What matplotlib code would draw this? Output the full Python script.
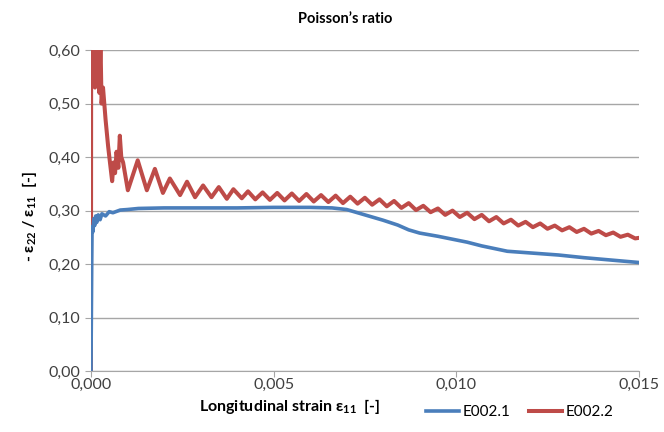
import numpy as np
import matplotlib.pyplot as plt
from matplotlib.ticker import FuncFormatter, MultipleLocator

plt.rcParams['font.family'] = ['Lato', 'DejaVu Sans']
plt.rcParams['mathtext.default'] = 'regular'

# Данные (деформация в 1e-3)
blue_x = [0.0, 0.02, 0.03, 0.05, 0.08, 0.10, 0.13, 0.16, 0.20, 0.25, 0.30, 0.40, 0.50, 0.60,
          0.80, 1.0, 1.3, 2.0, 3.0, 4.0, 5.0, 6.0, 6.6, 7.0, 7.3, 7.6, 8.0, 8.4, 8.7, 9.0,
          9.5, 10.3, 10.7, 11.4, 12.0, 12.8, 13.5, 14.0, 14.5, 15.0]
blue_y = [0.00, 0.20, 0.27, 0.26, 0.285, 0.272, 0.29, 0.278, 0.292, 0.283, 0.294, 0.290, 0.298, 0.296,
          0.301, 0.302, 0.304, 0.305, 0.305, 0.305, 0.306, 0.306, 0.305, 0.302, 0.296, 0.290, 0.282, 0.273, 0.264, 0.258,
          0.252, 0.241, 0.234, 0.224, 0.221, 0.217, 0.212, 0.209, 0.206, 0.203]

red_x = [0.0, 0.005, 0.02, 0.05, 0.08, 0.11, 0.14, 0.17, 0.20, 0.23, 0.26, 0.29, 0.33, 0.40, 0.47, 0.52,
         0.58, 0.62, 0.66, 0.70, 0.75, 0.79, 0.83, 0.88, 0.93, 1.01, 1.28, 1.53, 1.75, 1.97, 2.16, 2.44,
         2.63, 2.85, 3.07, 3.30, 3.50, 3.72, 3.90, 4.13, 4.3, 4.5, 4.7, 4.9, 5.1, 5.3, 5.5, 5.7, 5.9,
         6.1, 6.3, 6.5, 6.7, 6.9, 7.1, 7.3, 7.5, 7.7, 7.9, 8.1, 8.3, 8.5, 8.7, 8.9, 9.1, 9.3, 9.5,
         9.7, 9.9, 10.1, 10.3, 10.5, 10.7, 10.9, 11.1, 11.3, 11.5, 11.7, 11.9, 12.1, 12.3, 12.5, 12.7,
         12.9, 13.1, 13.3, 13.5, 13.7, 13.9, 14.1, 14.3, 14.5, 14.7, 14.9, 15.0]
red_y = [0.00, 0.62, 0.80, 0.55, 0.72, 0.53, 0.68, 0.56, 0.66, 0.52, 0.62, 0.50, 0.53, 0.47, 0.42, 0.39,
         0.355, 0.39, 0.37, 0.41, 0.38, 0.44, 0.40, 0.39, 0.37, 0.338, 0.394, 0.338, 0.378, 0.333, 0.360, 0.329,
         0.354, 0.325, 0.347, 0.325, 0.344, 0.322, 0.340, 0.323, 0.336, 0.321, 0.334, 0.320, 0.333, 0.319, 0.332, 0.318, 0.331,
         0.317, 0.329, 0.316, 0.328, 0.314, 0.326, 0.313, 0.324, 0.311, 0.321, 0.308, 0.318, 0.305, 0.314, 0.301, 0.309, 0.297, 0.304,
         0.292, 0.300, 0.288, 0.296, 0.284, 0.292, 0.280, 0.288, 0.276, 0.283, 0.272, 0.279, 0.269, 0.276, 0.266, 0.272,
         0.263, 0.269, 0.260, 0.266, 0.257, 0.262, 0.254, 0.259, 0.251, 0.255, 0.248, 0.249]

fig = plt.figure(figsize=(6.64, 4.32), dpi=100)
ax = fig.add_axes([0.137, 0.141, 0.825, 0.743])

ax.plot(np.array(blue_x) * 1e-3, blue_y, color='#4A7EBB', linewidth=2.6, label='E002.1', zorder=3,
        solid_joinstyle='round')
ax.plot(np.array(red_x) * 1e-3, red_y, color='#BE4B48', linewidth=2.9, label='E002.2', zorder=2,
        solid_joinstyle='round')

ax.set_xlim(0, 0.015)
ax.set_ylim(0, 0.6)
ax.xaxis.set_major_locator(MultipleLocator(0.005))
ax.yaxis.set_major_locator(MultipleLocator(0.1))
ax.xaxis.set_major_formatter(FuncFormatter(lambda v, p: f'{v:.3f}'.replace('.', ',')))
ax.yaxis.set_major_formatter(FuncFormatter(lambda v, p: f'{v:.2f}'.replace('.', ',')))

ax.grid(axis='y', color='#A6A6A6', linewidth=1)
ax.set_axisbelow(True)
for s in ['top', 'right', 'left']:
    ax.spines[s].set_visible(False)
ax.spines['bottom'].set_color('#A6A6A6')
ax.tick_params(axis='both', labelsize=11.5, colors='#A6A6A6', labelcolor='#404040', length=4)
ax.tick_params(axis='x', pad=1)

fig.text(0.52, 0.955, 'Poisson\u2019s ratio', ha='center', va='center', fontsize=10.5, fontweight='bold')
fig.text(0.437, 0.058, r'Longitudinal strain ε$_{11}$  [-]', ha='center', va='center',
         fontsize=11.5, fontweight='bold')
fig.text(0.045, 0.5, r'- ε$_{22}$ / ε$_{11}$  [-]', ha='center', va='center', rotation=90,
         fontsize=11.5, fontweight='bold')

ax.legend(loc='center left', bbox_to_anchor=(0.6, -0.127), ncol=2, frameon=False, fontsize=11,
          handlelength=2.2, handletextpad=0.2, columnspacing=1.2, borderaxespad=0)

plt.savefig('out.png', dpi=100)
